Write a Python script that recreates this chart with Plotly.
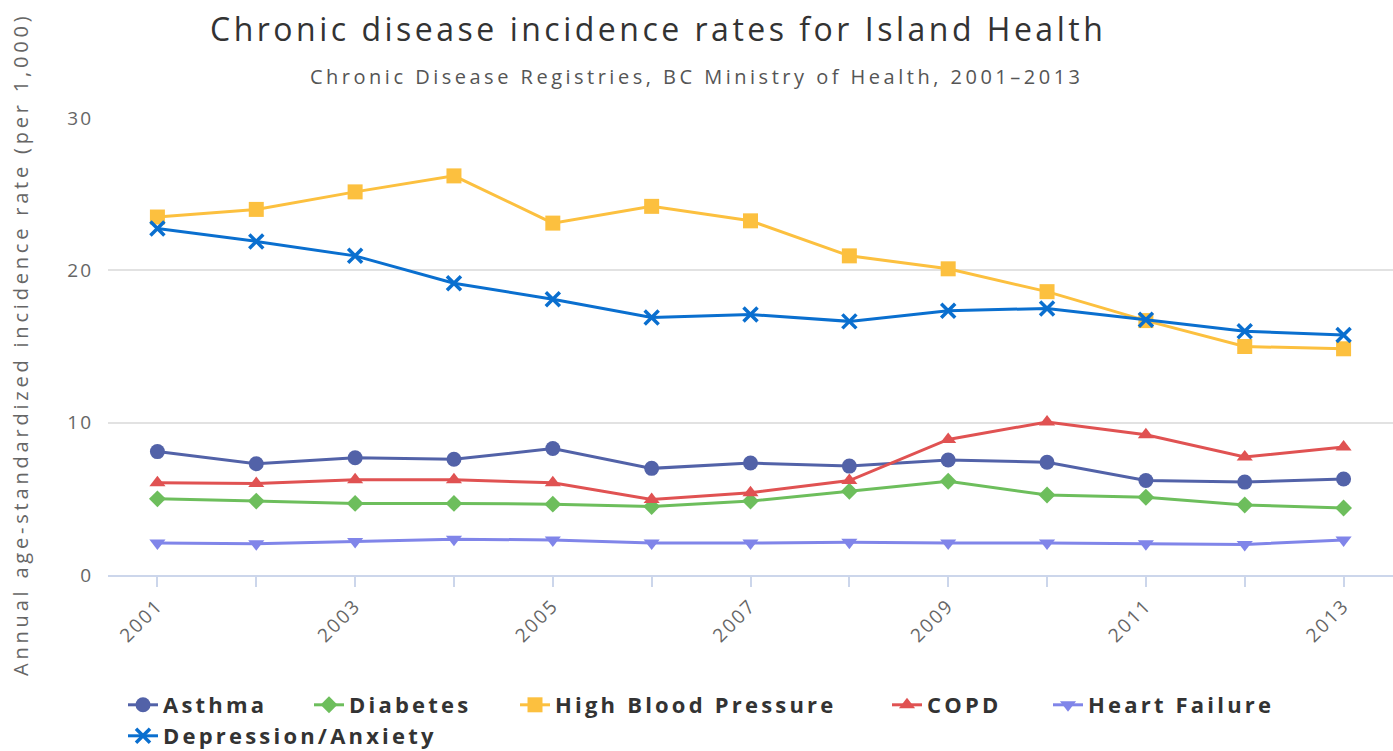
import plotly.graph_objects as go

years = list(range(2001, 2014))
asthma = [8.1, 7.3, 7.7, 7.6, 8.3, 7.0, 7.35, 7.15, 7.55, 7.4, 6.2, 6.1, 6.3]
diabetes = [5.0, 4.85, 4.7, 4.7, 4.65, 4.5, 4.85, 5.5, 6.15, 5.25, 5.1, 4.6, 4.4]
hbp = [23.5, 24.0, 25.15, 26.2, 23.1, 24.2, 23.25, 20.95, 20.1, 18.6, 16.7, 15.0, 14.85]
copd = [6.05, 6.0, 6.25, 6.25, 6.05, 4.95, 5.4, 6.2, 8.9, 10.05, 9.2, 7.75, 8.4]
heart_failure = [2.1, 2.05, 2.2, 2.35, 2.3, 2.1, 2.1, 2.15, 2.1, 2.1, 2.05, 2.0, 2.3]
depression = [22.75, 21.9, 20.95, 19.15, 18.1, 16.9, 17.1, 16.65, 17.35, 17.5, 16.75, 16.0, 15.75]

series_names = ["Asthma", "Diabetes", "High Blood Pressure", "COPD", "Heart Failure", "Depression/Anxiety"]
series_values = [asthma, diabetes, hbp, copd, heart_failure, depression]
colors = ["#5262a8", "#6dbe5c", "#fcc03f", "#e05252", "#8085e9", "#0a6fcf"]
symbols = ["circle", "diamond", "square", "triangle-up", "triangle-down", "x-thin"]
sizes = [15, 13, 15, 14, 14, 14]

title_text = "Chronic disease incidence rates for Island Health"
subtitle_text = "Chronic Disease Registries, BC Ministry of Health, 2001\u20132013"
y_title = "Annual age-standardized incidence rate (per 1,000)"
y_ticks = [0, 10, 20, 30]
x_tick_labels = ["2001", "2003", "2005", "2007", "2009", "2011", "2013"]

FONT = "Open Sans"
W, H = 1393, 751
L, R, T, B = 108, 0, 118, 176
PW = W - L - R
PH = H - T - B


def px_x(px):
    return (px - L) / PW


def px_y(py):
    return (H - B - py) / PH


def sp(text, s):
    return f'<span style="letter-spacing:{s}px">{text}</span>'


fig = go.Figure()
legend_pos = [(123, 705), (309, 705), (515, 705), (887, 705), (1048, 705), (123, 736)]
for i, (name, vals) in enumerate(zip(series_names, series_values)):
    lname = "legend" if i == 0 else f"legend{i+1}"
    marker = dict(symbol=symbols[i], size=sizes[i], color=colors[i])
    if symbols[i] == "x-thin":
        marker["line"] = dict(color=colors[i], width=3.5)
    else:
        marker["line"] = dict(width=0)
    fig.add_trace(go.Scatter(
        x=years, y=vals, mode="lines+markers", name=sp(name, 3.2),
        line=dict(color=colors[i], width=3), marker=marker,
        legend=lname,
    ))

layout_legends = {}
for i, (lx, ly) in enumerate(legend_pos):
    lname = "legend" if i == 0 else f"legend{i+1}"
    layout_legends[lname] = dict(
        x=px_x(lx), y=px_y(ly), xanchor="left", yanchor="middle",
        orientation="h", bgcolor="rgba(0,0,0,0)", borderwidth=0,
        font=dict(family=FONT, size=22, color="#333333", weight="bold"),
        itemwidth=30,
    )

fig.update_layout(
    width=W, height=H,
    margin=dict(l=L, r=R, t=T, b=B, autoexpand=False),
    paper_bgcolor="white", plot_bgcolor="white",
    showlegend=True,
    font=dict(family=FONT, color="#666666"),
    **layout_legends,
)

fig.update_xaxes(
    range=[2000.5, 2013.5],
    tickmode="array", tickvals=[int(t) for t in x_tick_labels],
    ticktext=[sp(t, 2) for t in x_tick_labels],
    tickangle=-45,
    tickfont=dict(family=FONT, size=19, color="#666666"),
    showgrid=False, zeroline=False,
    showline=True, linecolor="#ccd6eb", linewidth=2,
    ticks="outside", ticklen=10, tickcolor="#ccd6eb", tickwidth=1.5,
    minor=dict(ticks="outside", ticklen=10, tickcolor="#ccd6eb", tickwidth=1.5, dtick=1, tick0=2001),
)
fig.update_yaxes(
    range=[0, 30], tickvals=y_ticks,
    ticktext=[sp(str(t), 2) for t in y_ticks],
    tickfont=dict(family=FONT, size=19, color="#666666"),
    showgrid=True, gridcolor="#e2e2e2", gridwidth=1.5,
    zeroline=False, showline=False, ticks="", ticklabelstandoff=14,
)

fig.add_annotation(
    text=sp(title_text, 3.5), xref="paper", yref="paper",
    x=px_x(658), y=px_y(28), xanchor="center", yanchor="middle",
    showarrow=False, font=dict(family=FONT, size=32, color="#333333"),
)
fig.add_annotation(
    text=sp(subtitle_text, 3.5), xref="paper", yref="paper",
    x=px_x(697), y=px_y(76), xanchor="center", yanchor="middle",
    showarrow=False, font=dict(family=FONT, size=20, color="#555555"),
)
fig.add_annotation(
    text=sp(y_title, 3.8), xref="paper", yref="paper",
    x=px_x(20), y=px_y(345), xanchor="center", yanchor="middle",
    textangle=-90, showarrow=False, font=dict(family=FONT, size=20, color="#666666"),
)

fig.write_html(
    "out.html",
    config={"displayModeBar": False},
    post_script="document.body.style.margin='0px';",
)
